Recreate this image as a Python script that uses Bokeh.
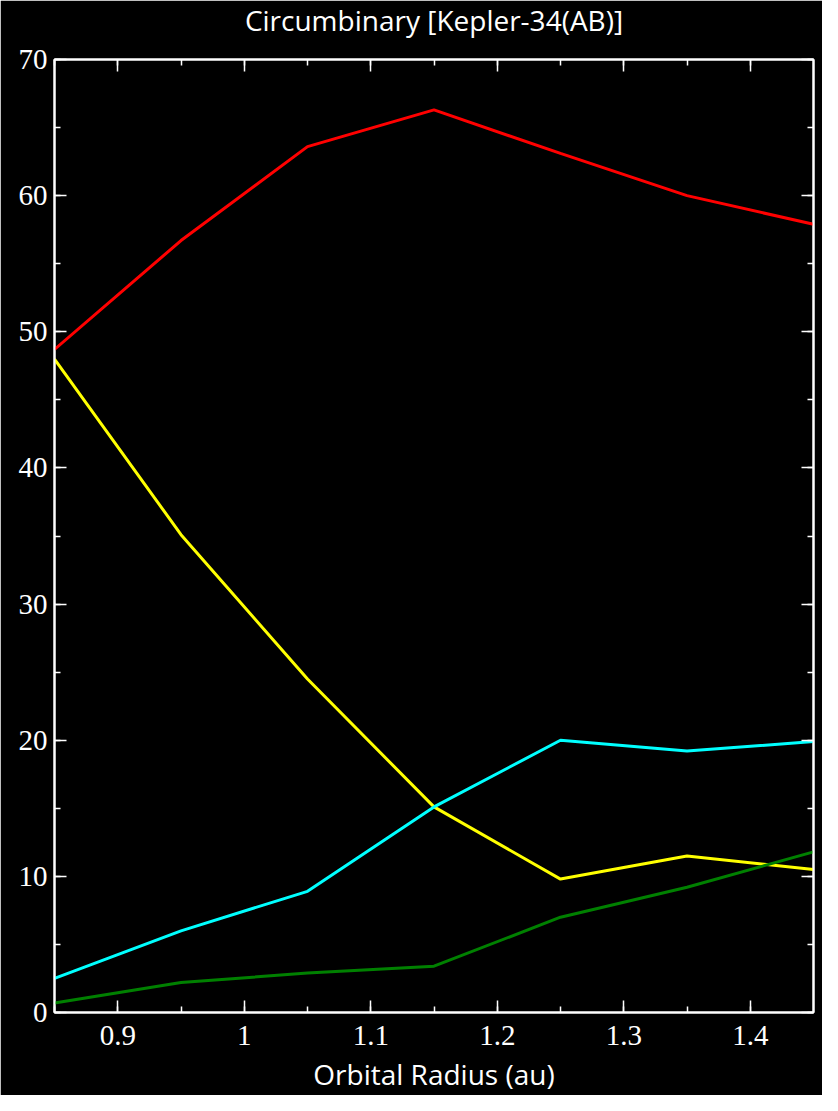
from bokeh.plotting import figure
from bokeh.models import LinearAxis, FixedTicker, Range1d
from bokeh.embed import file_html
from bokeh.resources import INLINE

radius = [0.85, 0.95, 1.05, 1.15, 1.25, 1.35, 1.45]
red_vals = [48.7, 56.7, 63.6, 66.3, 63.1, 60.0, 57.9]
yellow_vals = [48.0, 35.1, 24.5, 15.1, 9.8, 11.5, 10.5]
cyan_vals = [2.5, 6.0, 8.9, 15.1, 20.0, 19.2, 19.9]
green_vals = [0.7, 2.2, 2.9, 3.4, 7.0, 9.2, 11.8]

x_ticks = [0.9, 1.0, 1.1, 1.2, 1.3, 1.4]
y_ticks = [0, 10, 20, 30, 40, 50, 60, 70]
title_text = "Circumbinary [Kepler-34(AB)]"
x_label = "Orbital Radius (au)"

p = figure(width=822, height=1095, output_backend="svg", toolbar_location=None,
           x_range=Range1d(radius[0], radius[-1]), y_range=Range1d(y_ticks[0], y_ticks[-1]),
           x_axis_location=None, y_axis_location=None,
           min_border_left=54, min_border_right=9, min_border_top=59, min_border_bottom=81)
p.background_fill_color = "black"
p.border_fill_color = "black"
p.outline_line_color = "white"
p.outline_line_width = 2
p.xgrid.visible = False
p.ygrid.visible = False

p.title.text = title_text
p.title.align = "center"
p.title.offset = 4
p.title.text_color = "white"
p.title.text_font = "Open Sans"
p.title.text_font_style = "normal"
p.title.text_font_size = "28px"
p.title.standoff = -4


def style(ax, labels=True):
    ax.axis_line_color = "white"
    ax.axis_line_width = 2
    ax.major_tick_line_color = "white"
    ax.minor_tick_line_color = "white"
    ax.major_tick_line_width = 1.5
    ax.minor_tick_line_width = 1.5
    ax.major_tick_in = 12
    ax.major_tick_out = 0
    ax.minor_tick_in = 6
    ax.minor_tick_out = 0
    ax.major_label_text_color = "white"
    ax.major_label_text_font = "Liberation Serif"
    ax.major_label_text_font_size = "29px"
    if not labels:
        ax.major_label_text_color = None
        ax.major_label_text_font_size = "0px"
        ax.major_label_standoff = 0


xt = FixedTicker(ticks=x_ticks, minor_ticks=[0.85 + 0.05 * i for i in range(13)])
yt = FixedTicker(ticks=y_ticks, minor_ticks=[5 * i for i in range(15)])

xb = LinearAxis(ticker=xt)
style(xb)
xb.major_label_standoff = 13
xb.axis_label = x_label
xb.axis_label_text_color = "white"
xb.axis_label_text_font = "Open Sans"
xb.axis_label_text_font_style = "normal"
xb.axis_label_text_font_size = "28px"
xb.axis_label_standoff = 7
xb.major_label_overrides = {1.0: "1"}
p.add_layout(xb, "below")

# top axis: ticks only; a blank axis label reserves room so the title sits higher
xa = LinearAxis(ticker=xt)
style(xa, labels=False)
xa.axis_label = " "
xa.axis_label_text_color = "black"
xa.axis_label_text_font_size = "12px"
xa.axis_label_standoff = 6
p.add_layout(xa, "above")

yl = LinearAxis(ticker=yt)
style(yl)
yl.major_label_standoff = 7
p.add_layout(yl, "left")

yr = LinearAxis(ticker=yt)
style(yr, labels=False)
p.add_layout(yr, "right")

for vals, col in [(red_vals, "#ff0000"), (yellow_vals, "#ffff00"),
                  (cyan_vals, "#00ffff"), (green_vals, "#008000")]:
    p.line(radius, vals, line_color=col, line_width=3)

open("out.html", "w").write(file_html(p, INLINE))
